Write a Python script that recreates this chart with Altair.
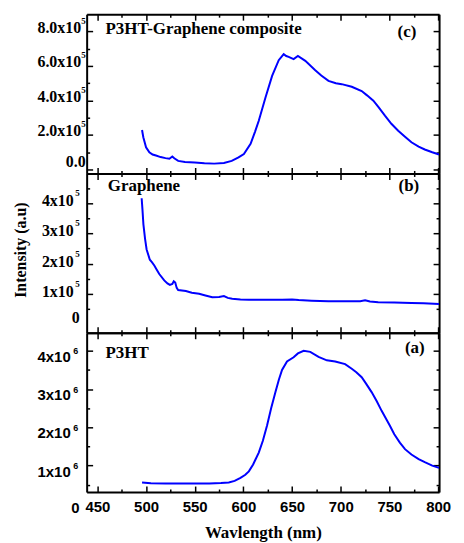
import altair as alt
import pandas as pd

# ---------------- data ----------------
# (c) P3HT-Graphene composite
c_wl = [495.9, 497.2, 500.0, 503.4, 506.7, 510.2, 515, 520, 524, 527, 529, 533, 540, 550, 560,
        570, 580, 588, 595, 600.5, 607.4, 612, 615.8, 622.7, 629.5, 636.3, 641.4, 644, 646.5,
        651.6, 656, 663.6, 673.8, 680, 687.4, 695, 701, 711.3, 721.5, 727, 733.5, 739, 745.4,
        752, 759, 766, 772.6, 780, 786.3, 794, 801]
c_int = [229000, 187000, 129000, 100000, 87000, 81000, 72000, 66000, 62000, 75000, 65000, 50000,
         44000, 40000, 36000, 34000, 38000, 50000, 70000, 90000, 149000, 220000, 283000, 418000,
         543000, 634000, 669000, 658000, 653000, 640000, 659000, 630000, 576000, 545000, 514000,
         500000, 495000, 480000, 455000, 430000, 399000, 360000, 312000, 265000, 225000, 190000,
         158000, 133000, 116000, 100000, 87000]

# (b) Graphene
b_wl = [495.5, 496.3, 497.3, 499.0, 500.6, 503.9, 506, 508.5, 511, 513.6, 518.7, 522, 524.5,
        527, 528.5, 530, 531.5, 533, 540.9, 547, 554.5, 561, 568, 575, 580, 584, 588.5, 597,
        605.6, 622.7, 639.7, 650, 656.8, 670, 687.4, 705, 720, 725, 730, 738.5, 755, 772.6,
        785, 801]
b_int = [416000, 380000, 330000, 282000, 247000, 213000, 205000, 194000, 180000, 166000, 145000,
         135000, 130000, 133000, 142000, 138000, 120000, 113000, 110000, 104000, 101000, 95000,
         89000, 90000, 93000, 87000, 84000, 82000, 81000, 81000, 81000, 82000, 80000, 78000,
         76000, 76000, 76000, 79000, 75000, 73000, 72000, 70000, 69000, 67000]

# (a) P3HT
a_wl = [495.9, 505, 520, 534, 550, 565, 577, 585, 591, 597, 602, 605.6, 610, 615.8, 620, 624.3,
        628.5, 633, 636.5, 639.7, 644.8, 651.6, 656, 661.9, 668.7, 677.2, 685.7, 694.3, 704.5,
        711.3, 716, 721.5, 726, 731.7, 737, 742, 750.5, 755, 760.7, 766, 772.6, 780, 786.3, 794, 801]
a_int = [560000, 540000, 530000, 530000, 530000, 535000, 545000, 560000, 600000, 680000, 760000,
         850000, 1030000, 1340000, 1650000, 2050000, 2500000, 2930000, 3250000, 3500000, 3720000,
         3830000, 3930000, 4000000, 3970000, 3840000, 3750000, 3720000, 3650000, 3530000, 3440000,
         3310000, 3140000, 2920000, 2680000, 2430000, 2040000, 1820000, 1600000, 1430000, 1290000,
         1170000, 1090000, 1000000, 940000]

x_domain = [439, 801]
x_tick_values = list(range(450, 801, 25))

c_domain = [-23000, 901000]
c_tick_values = [0, 100000, 200000, 300000, 400000, 500000, 600000, 700000, 800000]
c_label_values = [0, 200000, 400000, 600000, 800000]
c_label_main = ["0.0", "2.0x10", "4.0x10", "6.0x10", "8.0x10"]
c_label_sup = ["", "5", "5", "5", "5"]

b_domain = [-28000, 498000]
b_tick_values = [50000, 100000, 150000, 200000, 250000, 300000, 350000, 400000, 450000]
b_label_values = [0, 100000, 200000, 300000, 400000]
b_label_main = ["0", "1x10", "2x10", "3x10", "4x10"]
b_label_sup = ["", "5", "5", "5", "5"]

a_domain = [310000, 4470000]
a_tick_values = [500000, 1000000, 1500000, 2000000, 2500000, 3000000, 3500000, 4000000]
a_label_values = [0, 1000000, 2000000, 3000000, 4000000]
a_label_main = ["0", "1x10", "2x10", "3x10", "4x10"]
a_label_sup = ["", "6", "6", "6", "6"]

c_notes = ["P3HT-Graphene composite", "(c)"]
c_note_x = [458.4, 768]
c_note_y = [786000, 766000]
b_notes = ["Graphene", "(b)"]
b_note_x = [460.7, 770]
b_note_y = [440000, 439000]
a_notes = ["P3HT", "(a)"]
a_note_x = [458.4, 776]
a_note_y = [3820000, 3950000]

x_title = "Wavlength (nm)"
y_title = "Intensity (a.u)"

SERIF = "Liberation Serif"
SANS = "Liberation Sans"
W, H = 354, 160


def panel(wl, val, y_domain, y_ticks, y_major_step, lab_vals, lab_main, lab_sup, font, fsize,
          pos, notes, note_x, note_y, x_labels=False, with_y_title=False):
    # pos: (main_dx, main_dy, sup_dx, sup_dy, plain_dx, plain_dy)
    df = pd.DataFrame({"wl": wl, "val": val})
    xscale = alt.Scale(domain=x_domain, nice=False, zero=False)
    yscale = alt.Scale(domain=y_domain, nice=False, zero=False)
    ytick = {"expr": f"datum.value % {y_major_step} === 0 ? -6 : -3"}
    xtick = {"expr": "datum.value % 50 === 0 ? -6 : -3"}
    common = dict(grid=False, domainWidth=2, domainColor="black", tickColor="black",
                  tickWidth=1.5)
    xaxis_kw = dict(orient="bottom", values=x_tick_values, tickSize=xtick, **common)
    if x_labels:
        xaxis_kw.update(labels=True, labelExpr="datum.value % 50 === 0 ? datum.label : ''",
                        labelFont=SANS, labelFontWeight="bold", labelFontSize=15,
                        labelColor="black", labelPadding=14, titleFont=SERIF,
                        titleFontSize=17, titleFontWeight="bold", titleColor="black",
                        titlePadding=7, labelFlush=False, labelOverlap=False)
    else:
        xaxis_kw.update(labels=False)
    yaxis_kw = dict(orient="left", values=y_ticks, tickSize=ytick, labels=False, **common)
    line = alt.Chart(df).mark_line(color="#0000FF", strokeWidth=2, clip=True).encode(
        x=alt.X("wl:Q", scale=xscale, axis=alt.Axis(**xaxis_kw),
                title=x_title if x_labels else None),
        y=alt.Y("val:Q", scale=yscale, axis=alt.Axis(**yaxis_kw), title=None),
    )
    mirror = alt.Chart(df).mark_line(opacity=0).encode(
        x=alt.X("wl:Q", scale=xscale, title=None,
                axis=alt.Axis(orient="top", values=x_tick_values, tickSize=xtick,
                              labels=False, **common)),
        y=alt.Y("val:Q", scale=yscale, title=None,
                axis=alt.Axis(orient="right", values=y_ticks, tickSize=ytick, labels=False,
                              **common)),
    )
    ndf = pd.DataFrame({"x": note_x, "y": note_y, "t": notes})
    txt_style = dict(font=SERIF, fontWeight="bold", fontSize=17, color="black",
                     baseline="alphabetic")
    title_txt = alt.Chart(ndf.iloc[[0]]).mark_text(align="left", **txt_style).encode(
        x=alt.X("x:Q", scale=xscale, axis=None), y=alt.Y("y:Q", scale=yscale, axis=None),
        text="t:N")
    tag_txt = alt.Chart(ndf.iloc[[1]]).mark_text(align="center", **txt_style).encode(
        x=alt.X("x:Q", scale=xscale, axis=None), y=alt.Y("y:Q", scale=yscale, axis=None),
        text="t:N")

    ldf = pd.DataFrame({"y": lab_vals, "m": lab_main, "s": lab_sup})
    sup_df = ldf[ldf["s"] != ""]
    plain_df = ldf[ldf["s"] == ""]
    lab_style = dict(font=font, fontWeight="bold", color="black", align="right",
                     baseline="alphabetic")
    main_txt = alt.Chart(sup_df).mark_text(dx=pos[0], dy=pos[1], fontSize=fsize,
                                           **lab_style).encode(
        x=alt.value(0), y=alt.Y("y:Q", scale=yscale, axis=None), text="m:N")
    sup_txt = alt.Chart(sup_df).mark_text(dx=pos[2], dy=pos[3], fontSize=9,
                                          **lab_style).encode(
        x=alt.value(0), y=alt.Y("y:Q", scale=yscale, axis=None), text="s:N")
    plain_txt = alt.Chart(plain_df).mark_text(dx=pos[4], dy=pos[5], fontSize=fsize,
                                              **lab_style).encode(
        x=alt.value(0), y=alt.Y("y:Q", scale=yscale, axis=None), text="m:N")
    layers = [line, mirror, title_txt, tag_txt, main_txt, sup_txt, plain_txt]
    if with_y_title:
        tdf = pd.DataFrame({"t": [y_title]})
        ytxt = alt.Chart(tdf).mark_text(angle=270, align="center", baseline="alphabetic",
                                        font=SERIF, fontWeight="bold", fontSize=16,
                                        color="black").encode(
            x=alt.value(-61), y=alt.value(H / 2 - 3), text="t:N")
        layers.append(ytxt)
    return alt.layer(*layers).resolve_axis(x="independent", y="independent").properties(
        width=W, height=H)


pc = panel(c_wl, c_int, c_domain, c_tick_values, 200000, c_label_values, c_label_main,
           c_label_sup, SERIF, 16, (-5.5, 1, -1, -8, -1, -2),
           c_notes, c_note_x, c_note_y)
pb = panel(b_wl, b_int, b_domain, b_tick_values, 100000, b_label_values, b_label_main,
           b_label_sup, SERIF, 16, (-13, 3, -7, -7, -7, -1),
           b_notes, b_note_x, b_note_y, with_y_title=True)
pa = panel(a_wl, a_int, a_domain, a_tick_values, 1000000, a_label_values, a_label_main,
           a_label_sup, SANS, 15, (-16, 11, -8.5, 3.5, -7, 9),
           a_notes, a_note_x, a_note_y, x_labels=True)

chart = alt.vconcat(pc, pb, pa, spacing=0, bounds="flush").properties(
    padding={"left": 5, "top": 4, "right": 5, "bottom": 0},
    background="white",
).configure_view(stroke=None)

chart.save("out.html", embed_options={"renderer": "svg", "actions": False})
